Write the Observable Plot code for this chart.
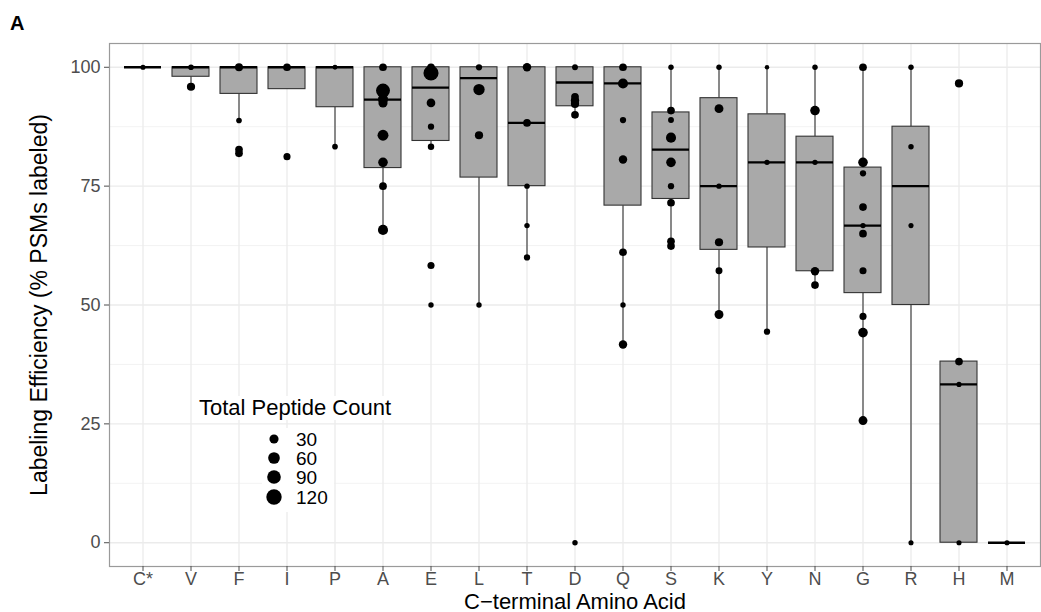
<!DOCTYPE html>
<html>
<head>
<meta charset="utf-8">
<script src="https://cdn.jsdelivr.net/npm/d3@7"></script>
<script src="https://cdn.jsdelivr.net/npm/@observablehq/plot@0.6"></script>
<style>
  html, body { margin: 0; padding: 0; background: white; }
  #wrap { position: relative; width: 1041px; height: 612px; font-family: "Liberation Sans", Arial, sans-serif; }
  #panelLabel { position: absolute; left: 10px; top: 12px; font-size: 20px; line-height: 22px; font-weight: bold; }
  #legTitle { position: absolute; left: 197px; top: 396px; font-size: 22px; line-height: 24px; background: white; padding: 0 2px; white-space: nowrap; }
  #legKeys { position: absolute; left: 262px; top: 428px; width: 72px; height: 84px; background: white; }
</style>
</head>
<body>
<div id="wrap">
  <div id="chart"></div>
  <div id="panelLabel">A</div>
  <div id="legTitle">Total Peptide Count</div>
  <div id="legKeys"></div>
</div>
<script>
const acids = ["C*","V","F","I","P","A","E","L","T","D","Q","S","K","Y","N","G","R","H","M"];
const whiskerLow  = [100,95.9,88.8,95.4,83.3,65.8,83.3,50,60,90,41.7,62.8,48,44.5,54.2,25.7,0,0,0];
const q1          = [100,98,94.4,95.4,91.6,78.8,84.5,76.8,75,91.8,70.9,72.3,61.6,62.1,57.1,52.5,50,0,0];
const medians     = [100,100,100,100,100,93.2,95.7,97.7,88.3,96.8,96.6,82.7,75,80,80,66.7,75,33.3,0];
const q3          = [100,100,100,100,100,100,100,100,100,100,100,90.5,93.5,90.1,85.4,78.9,87.5,38.1,0];
const whiskerHigh = [100,100,100,100,100,100,100,100,100,100,100,100,100,100,100,100,100,38.1,0];

const pointAcid = [
  "C*",
  "V","V",
  "F","F","F","F",
  "I","I",
  "P","P",
  "A","A","A","A","A","A","A","A",
  "E","E","E","E","E","E","E",
  "L","L","L","L",
  "T","T","T","T","T",
  "D","D","D","D","D","D",
  "Q","Q","Q","Q","Q","Q","Q",
  "S","S","S","S","S","S","S","S","S",
  "K","K","K","K","K","K",
  "Y","Y","Y",
  "N","N","N","N","N",
  "G","G","G","G","G","G","G","G","G","G",
  "R","R","R","R",
  "H","H","H","H",
  "M"
];
const pointValue = [
  100,
  100,95.9,
  100,88.8,82.7,81.9,
  100,81.2,
  100,83.3,
  100,95.1,93.3,92.5,85.7,80,75,65.8,
  100,98.8,92.5,87.5,83.3,58.3,50,
  100,95.3,85.7,50,
  100,88.3,75,66.7,60,
  100,93.8,93,92.3,90,0,
  100,96.6,88.9,80.6,61.1,50,41.7,
  100,90.9,88.9,85.2,80,75,71.5,63.4,62.4,
  100,91.3,75,63.2,57.2,48,
  100,80,44.4,
  100,90.9,80,57.1,54.2,
  100,80,77.7,70.6,66.7,65,57.2,47.6,44.2,25.7,
  100,83.3,66.7,0,
  96.6,38.1,33.3,0,
  0
];
const pointCount = [
  4,
  6,22,
  20,6,18,18,
  18,14,
  3,6,
  18,95,40,30,50,35,18,40,
  18,115,26,9,10,14,5,
  9,55,22,5,
  24,18,5,5,9,
  7,18,24,22,18,5,
  18,40,9,24,18,5,24,
  5,18,7,40,35,9,18,18,18,
  5,28,5,22,13,28,
  2,5,9,
  5,35,5,24,18,
  18,35,9,18,5,18,14,14,35,28,
  5,5,4,4,
  22,18,4,4,
  4
];
const yTicks = [0, 25, 50, 75, 100];
const yMinorTicks = [12.5, 37.5, 62.5, 87.5];
const legendCounts = [30, 60, 90, 120];

const boxes = acids.map((a, i) => ({acid: a, lo: whiskerLow[i], q1: q1[i], med: medians[i], q3: q3[i], hi: whiskerHigh[i]}));
const points = pointAcid.map((a, i) => ({acid: a, value: pointValue[i], count: pointCount[i]}));

const chart = Plot.plot({
  width: 1041,
  height: 612,
  marginLeft: 109,
  marginRight: 1,
  marginTop: 43,
  marginBottom: 46,
  style: {fontFamily: "Liberation Sans, Arial, sans-serif", background: "white", overflow: "visible"},
  x: {type: "band", domain: acids, paddingInner: 0.23, paddingOuter: 0.215, axis: null},
  y: {domain: [-5, 105], axis: null},
  r: {type: "sqrt", domain: [1, 125], range: [2, 7.8]},
  marks: [
    Plot.ruleY(yMinorTicks, {stroke: "#ececec", strokeWidth: 0.7}),
    Plot.ruleY(yTicks, {stroke: "#ebebeb", strokeWidth: 1.3}),
    Plot.ruleX(acids, {x: d => d, stroke: "#ebebeb", strokeWidth: 1.3}),
    Plot.ruleX(boxes, {x: "acid", y1: "lo", y2: "q1", stroke: "#333333", strokeWidth: 1.1}),
    Plot.ruleX(boxes, {x: "acid", y1: "q3", y2: "hi", stroke: "#333333", strokeWidth: 1.1}),
    Plot.barY(boxes, {x: "acid", y1: "q1", y2: "q3", fill: "#a9a9a9", stroke: "#333333", strokeWidth: 1.1}),
    Plot.tickY(boxes, {x: "acid", y: "med", stroke: "black", strokeWidth: 2.3}),
    Plot.dot(points, {x: "acid", y: "value", r: "count", fill: "black", stroke: "none"}),
    Plot.frame({stroke: "#9a9a9a", strokeWidth: 1.2}),
    Plot.axisY(yTicks, {tickSize: 5, tickPadding: 4, fontSize: 18, color: "#4d4d4d", label: null}),
    Plot.axisX(acids, {tickSize: 5, tickPadding: 1, fontSize: 18, color: "#4d4d4d", label: null}),
    Plot.text(["Labeling Efficiency (% PSMs labeled)"], {frameAnchor: "left", textAnchor: "middle", lineAnchor: "middle", rotate: -90, dx: -70, fontSize: 23, fill: "black"}),
    Plot.text(["C\u2212terminal Amino Acid"], {frameAnchor: "bottom", textAnchor: "middle", lineAnchor: "middle", dy: 35, fontSize: 22, fill: "black"})
  ]
});
document.getElementById("chart").appendChild(chart);

// size legend from the chart's own r scale
const rScale = chart.scale("r");
const keyY = [11, 30, 49, 69];
const svgNS = "http://www.w3.org/2000/svg";
const lsvg = document.createElementNS(svgNS, "svg");
lsvg.setAttribute("width", 72);
lsvg.setAttribute("height", 84);
lsvg.style.fontFamily = "Liberation Sans, Arial, sans-serif";
legendCounts.forEach((c, i) => {
  const circ = document.createElementNS(svgNS, "circle");
  circ.setAttribute("cx", 12);
  circ.setAttribute("cy", keyY[i]);
  circ.setAttribute("r", rScale.apply(c));
  circ.setAttribute("fill", "black");
  lsvg.appendChild(circ);
  const t = document.createElementNS(svgNS, "text");
  t.setAttribute("x", 34);
  t.setAttribute("y", keyY[i]);
  t.setAttribute("dy", "0.35em");
  t.setAttribute("font-size", 19);
  t.textContent = String(c);
  lsvg.appendChild(t);
});
document.getElementById("legKeys").appendChild(lsvg);
</script>
</body>
</html>
